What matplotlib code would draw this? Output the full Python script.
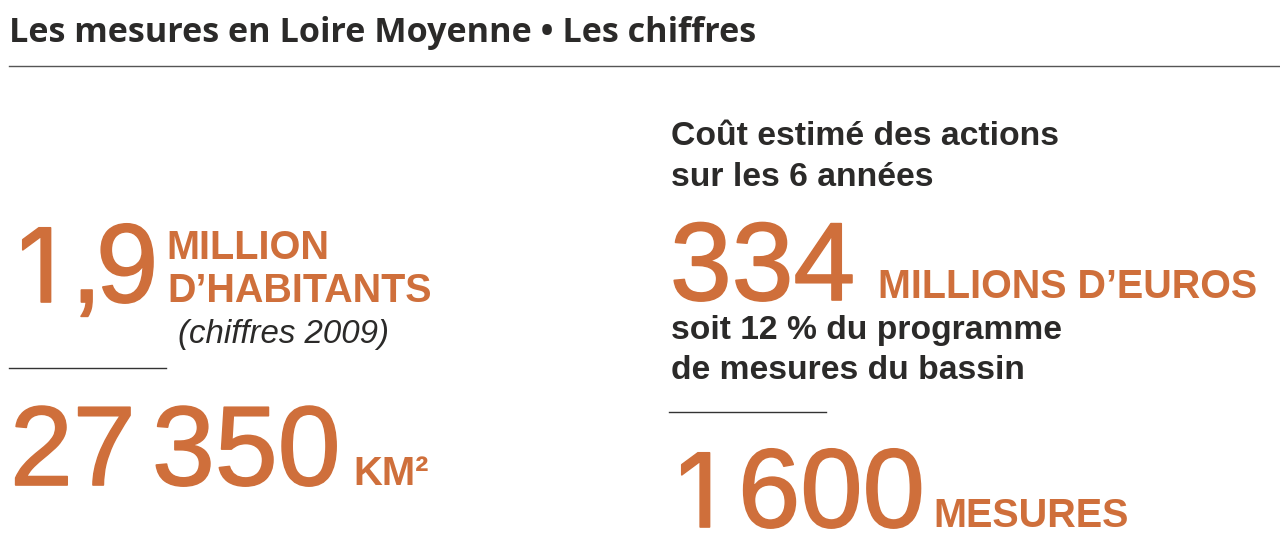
import matplotlib
matplotlib.use("Agg")
import matplotlib.pyplot as plt
import matplotlib.patheffects as pe

W, H = 1280, 549
ORANGE = "#cf6f3b"
DARK = "#2b2a29"
title = "Les mesures en Loire Moyenne • Les chiffres"
big_numbers = [
    ("1", 18, 302, 102, "Inter"),
    (",", 71, 302, 112, "Liberation Sans"),
    ("9", 96, 302, 112, "Liberation Sans"),
    ("27", 10, 485, 113, "Liberation Sans"),
    ("350", 152, 485, 113, "Liberation Sans"),
    ("334", 670, 300, 111, "Liberation Sans"),
    ("1", 677, 527, 102, "Inter"),
    ("600", 738, 527, 112, "Liberation Sans"),
]
labels = [
    ("MILLION", 166, 259, 39.7, ORANGE, "bold", "normal"),
    ("D’HABITANTS", 167, 302, 39.5, ORANGE, "bold", "normal"),
    ("(chiffres 2009)", 178, 343, 33, DARK, "normal", "italic"),
    ("KM²", 353, 485, 40, ORANGE, "bold", "normal"),
    ("Coût estimé des actions", 671, 145, 33.8, DARK, "bold", "normal"),
    ("sur les 6 années", 671, 186, 33.8, DARK, "bold", "normal"),
    ("MILLIONS D’EUROS", 878, 298, 39.5, ORANGE, "bold", "normal"),
    ("soit 12 % du programme", 671, 339, 33.6, DARK, "bold", "normal"),
    ("de mesures du bassin", 671, 379, 33.7, DARK, "bold", "normal"),
    ("MESURES", 933, 527, 39.6, ORANGE, "bold", "normal"),
]

fig = plt.figure(figsize=(W / 100, H / 100), dpi=100)
ax = fig.add_axes([0, 0, 1, 1])
ax.set_xlim(0, W)
ax.set_ylim(H, 0)
ax.axis("off")

ax.text(9, 42, title, fontsize=24.55, fontweight="bold", family="Open Sans", color=DARK)
ax.plot([9, 1280], [66, 66], color="#555555", lw=1)
ax.plot([9, 166], [368, 368], color="#333333", lw=1)
ax.plot([669, 826], [412, 412], color="#333333", lw=1)

thicken = [pe.withStroke(linewidth=1.2, foreground=ORANGE)]
for s, x, y, px, fam in big_numbers:
    ax.text(x, y, s, fontsize=px * 0.72, color=ORANGE, family=fam, va="baseline",
            path_effects=thicken)
for s, x, y, px, c, w, st in labels:
    ax.text(x, y, s, fontsize=px * 0.72, color=c, fontweight=w, fontstyle=st,
            family="Liberation Sans", va="baseline")

fig.savefig("out.png", dpi=100)
